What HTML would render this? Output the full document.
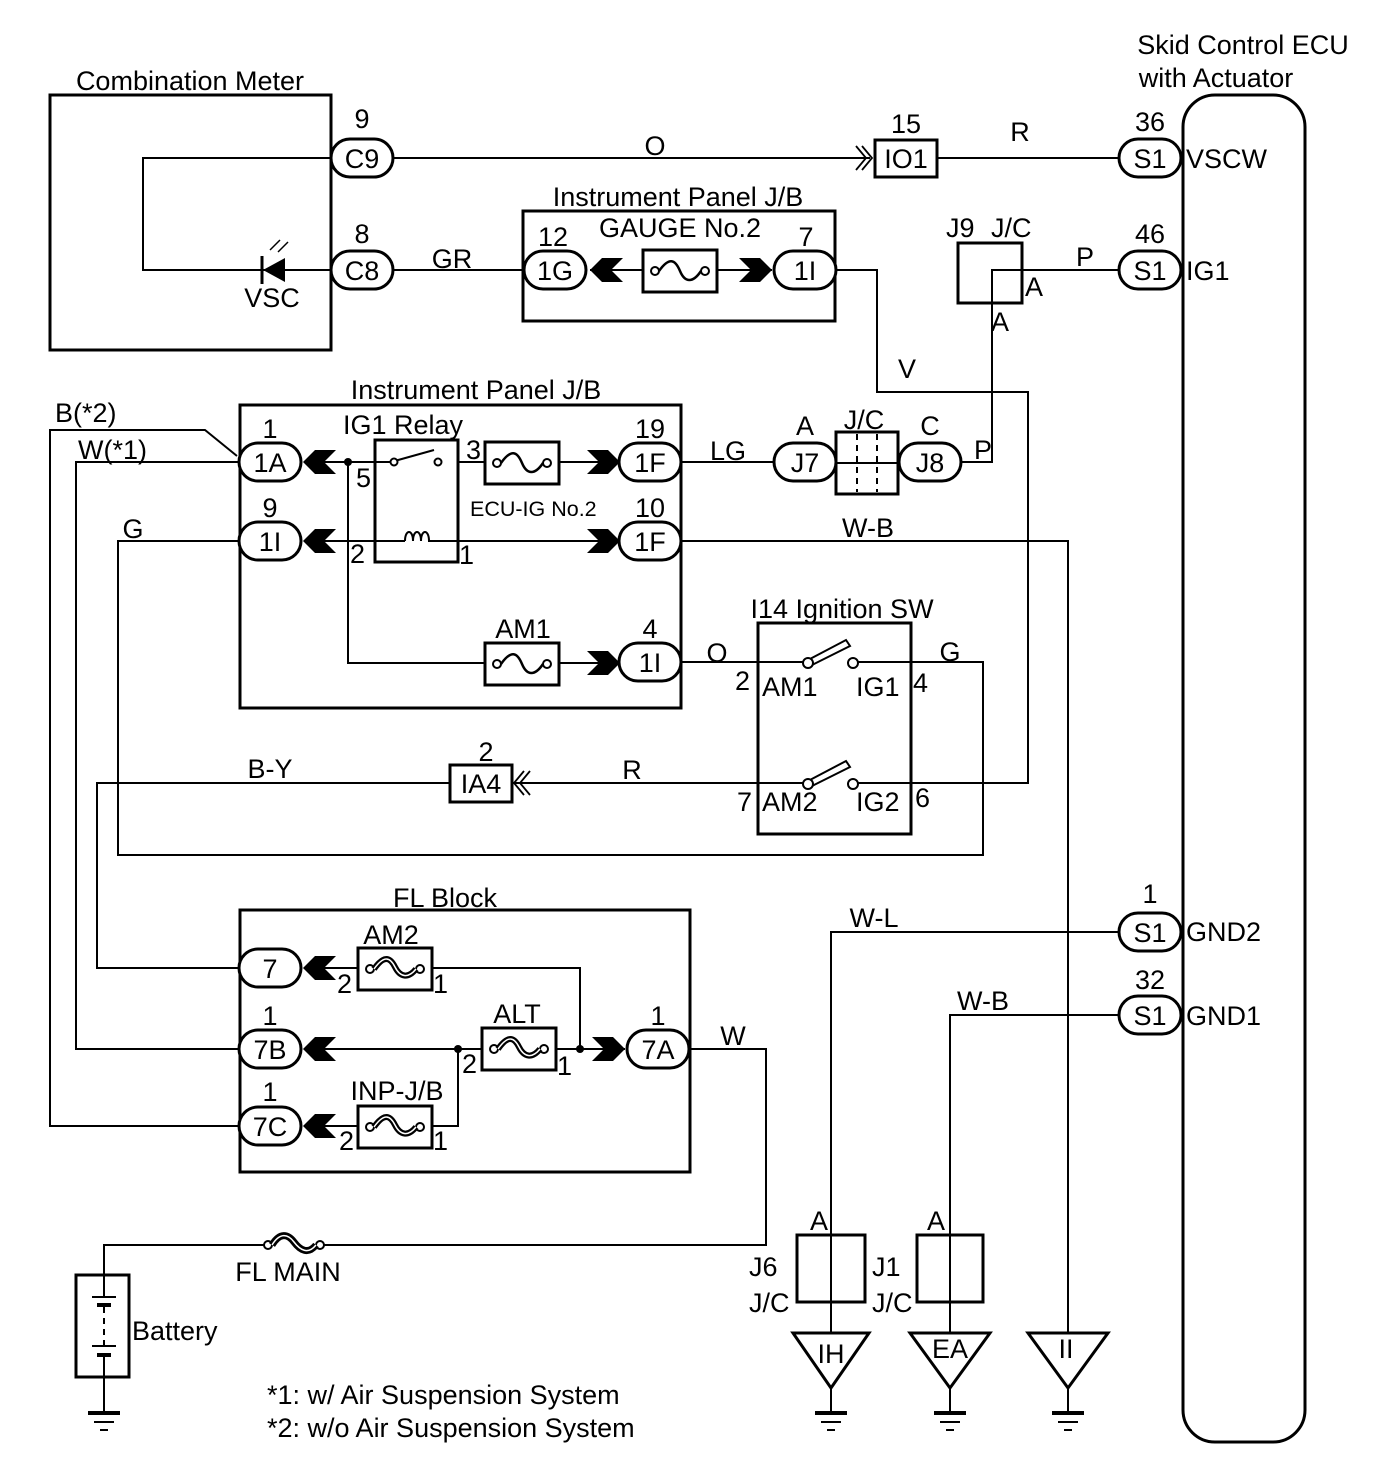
<!DOCTYPE html>
<html><head><meta charset="utf-8"><style>
html,body{margin:0;padding:0;background:#fff;}
svg{display:block}
text{font-family:"Liberation Sans",Arial,sans-serif;font-size:27px;fill:#000}
</style></head><body>
<svg width="1376" height="1480" viewBox="0 0 1376 1480" xmlns="http://www.w3.org/2000/svg">
<defs>
<g id="pill"><rect x="-31" y="-19" width="62" height="38" rx="19" fill="#fff" stroke="#000" stroke-width="3"/></g>
<g id="chL"><polygon points="0,0 12,-12 33,-12 21,0 33,12 12,12" fill="#000"/></g>
<g id="chR"><polygon points="0,0 -12,-12 -33,-12 -21,0 -33,12 -12,12" fill="#000"/></g>
<g id="fuse"><rect x="0" y="-21" width="74" height="42" fill="#fff" stroke="#000" stroke-width="3"/><circle cx="12" cy="0" r="4" fill="#fff" stroke="#000" stroke-width="2"/><circle cx="62" cy="0" r="4" fill="#fff" stroke="#000" stroke-width="2"/><path d="M16,0 C26,-14 32,-12 37,0 S50,12 58,0" fill="none" stroke="#000" stroke-width="2.5"/></g>
<g id="fl"><rect x="0" y="-21" width="74" height="42" fill="#fff" stroke="#000" stroke-width="3"/><circle cx="12" cy="0" r="4" fill="#fff" stroke="#000" stroke-width="2"/><circle cx="62" cy="0" r="4" fill="#fff" stroke="#000" stroke-width="2"/><path d="M16,0 C26,-14 32,-12 37,-2 S50,10 58,0" fill="none" stroke="#000" stroke-width="6"/><path d="M16,0 C26,-14 32,-12 37,-2 S50,10 58,0" fill="none" stroke="#fff" stroke-width="1.5"/></g>
<g id="gnd"><line x1="-16" y1="0" x2="16" y2="0" stroke="#000" stroke-width="4"/><line x1="-10" y1="9" x2="10" y2="9" stroke="#000" stroke-width="2"/><line x1="-4" y1="17" x2="4" y2="17" stroke="#000" stroke-width="2"/></g>
</defs>

<g fill="none" stroke="#000" stroke-width="2">
<polyline points="331,158 143,158 143,270 331,270"/>
<line x1="393" y1="158" x2="870" y2="158"/>
<line x1="937" y1="158" x2="1119" y2="158"/>
<line x1="393" y1="270" x2="524" y2="270"/>
<polyline points="836,270 877,270 877,392 1028,392 1028,783 853,783"/>
<polyline points="1119,270 992,270 992,462 961,462"/>
<line x1="681" y1="462" x2="774" y2="462"/>
<polyline points="681,541 1068,541 1068,1333"/>
<line x1="681" y1="662" x2="808" y2="662"/>
<polyline points="853,662 983,662 983,855 118,855 118,541 239,541"/>
<line x1="512" y1="783" x2="808" y2="783"/>
<polyline points="450,783 97,783 97,968 239,968"/>
<polyline points="239,462 76,462 76,1049 239,1049"/>
<polyline points="237,456 205,430 50,430 50,1126 239,1126"/>
<polyline points="689,1049 766,1049 766,1245 320,1245"/>
<polyline points="265,1245 104,1245 104,1275"/>
<line x1="104" y1="1377" x2="104" y2="1412"/>
<polyline points="1119,932 831,932 831,1333"/>
<polyline points="1119,1015 950,1015 950,1333"/>
<line x1="1068" y1="1388" x2="1068" y2="1412"/>
<line x1="831" y1="1388" x2="831" y2="1412"/>
<line x1="950" y1="1388" x2="950" y2="1412"/>
<line x1="305" y1="462" x2="391" y2="462"/>
<line x1="438" y1="462" x2="620" y2="462"/>
<line x1="305" y1="541" x2="620" y2="541"/>
<polyline points="348,462 348,663 620,663"/>
<line x1="590" y1="270" x2="772" y2="270"/>
<polyline points="305,968 432,968 580,968 580,1049"/>
<line x1="305" y1="1049" x2="625" y2="1049"/>
<polyline points="458,1049 458,1126 305,1126"/>
</g>

<g fill="none" stroke="#000" stroke-width="3">
<rect x="50" y="95" width="281" height="255"/>
<rect x="523" y="211" width="312" height="110"/>
<rect x="240" y="405" width="441" height="303"/>
<rect x="758" y="623" width="153" height="211"/>
<rect x="240" y="910" width="450" height="262"/>
<rect x="958" y="243" width="64" height="60"/>
<rect x="1183" y="95" width="122" height="1347" rx="32"/>
<rect x="797" y="1235" width="68" height="67"/>
<rect x="917" y="1235" width="66" height="67"/>
<rect x="375" y="440" width="83" height="122" fill="#fff"/>
<rect x="76" y="1275" width="53" height="102"/>
<polygon points="793,1333 869,1333 831,1388" fill="#fff"/>
<polygon points="910,1333 990,1333 950,1388" fill="#fff"/>
<polygon points="1028,1333 1108,1333 1068,1388" fill="#fff"/>
</g>
<g stroke="#000" stroke-width="2">
<line x1="375" y1="462" x2="391" y2="462"/><line x1="375" y1="541" x2="405" y2="541"/><line x1="428" y1="541" x2="458" y2="541"/>
<line x1="391" y1="462" x2="434" y2="450"/>
</g>
<circle cx="394" cy="462" r="3.5" fill="#fff" stroke="#000" stroke-width="2"/>
<circle cx="438" cy="462" r="3.5" fill="#fff" stroke="#000" stroke-width="2"/>
<path d="M405,541 c0,-12 8,-12 8,0 c0,-12 8,-12 8,0 c0,-12 8,-12 8,0" fill="#fff" stroke="#000" stroke-width="2"/>
<circle cx="348" cy="462" r="4" fill="#000"/>
<circle cx="580" cy="1049" r="4" fill="#000"/>
<circle cx="458" cy="1049" r="4" fill="#000"/>

<g stroke="#000" stroke-width="2" fill="#fff">
<polygon points="808,660 846,640 850,646 810,666"/><circle cx="808" cy="663" r="5"/><circle cx="853" cy="663" r="5"/>
<polygon points="808,781 846,761 850,767 810,787"/><circle cx="808" cy="784" r="5"/><circle cx="853" cy="784" r="5"/>
</g>

<rect x="836" y="432" width="62" height="62" fill="#fff" stroke="#000" stroke-width="3"/>
<line x1="836" y1="463" x2="898" y2="463" stroke="#000" stroke-width="2"/>
<line x1="857" y1="434" x2="857" y2="492" stroke="#000" stroke-width="2" stroke-dasharray="6,5"/>
<line x1="877" y1="434" x2="877" y2="492" stroke="#000" stroke-width="2" stroke-dasharray="6,5"/>

<use href="#fuse" x="643" y="271"/>
<use href="#fuse" x="485" y="463"/>
<use href="#fuse" x="485" y="664"/>
<use href="#fl" x="358" y="969"/>
<use href="#fl" x="482" y="1049"/>
<use href="#fl" x="358" y="1127"/>
<circle cx="268" cy="1245" r="4" fill="#fff" stroke="#000" stroke-width="2"/>
<circle cx="320" cy="1245" r="4" fill="#fff" stroke="#000" stroke-width="2"/>
<path d="M272,1245 C280,1232 288,1234 294,1242 S308,1255 316,1245" fill="none" stroke="#000" stroke-width="7"/>
<path d="M272,1245 C280,1232 288,1234 294,1242 S308,1255 316,1245" fill="none" stroke="#fff" stroke-width="1.5"/>

<use href="#chL" x="590" y="270"/>
<use href="#chR" x="772" y="270"/>
<use href="#chL" x="303" y="462"/>
<use href="#chL" x="303" y="541"/>
<use href="#chR" x="620" y="462"/>
<use href="#chR" x="620" y="541"/>
<use href="#chR" x="620" y="663"/>
<use href="#chL" x="303" y="968"/>
<use href="#chL" x="303" y="1049"/>
<use href="#chL" x="303" y="1126"/>
<use href="#chR" x="625" y="1049"/>
<g fill="none" stroke="#000" stroke-width="1.8">
<polyline points="856,146 866,158 856,170"/><polyline points="862,146 872,158 862,170"/>
<polyline points="524,771 514,783 524,795"/><polyline points="530,771 520,783 530,795"/>
</g>

<use href="#pill" x="362" y="158"/><use href="#pill" x="362" y="270"/>
<use href="#pill" x="555" y="270"/><use href="#pill" x="805" y="270"/>
<use href="#pill" x="1150" y="158"/><use href="#pill" x="1150" y="270"/>
<use href="#pill" x="1150" y="932"/><use href="#pill" x="1150" y="1015"/>
<use href="#pill" x="270" y="462"/><use href="#pill" x="270" y="541"/>
<use href="#pill" x="650" y="462"/><use href="#pill" x="650" y="541"/><use href="#pill" x="650" y="662"/>
<use href="#pill" x="805" y="462"/><use href="#pill" x="930" y="462"/>
<use href="#pill" x="270" y="968"/><use href="#pill" x="270" y="1049"/><use href="#pill" x="270" y="1126"/>
<use href="#pill" x="658" y="1049"/>
<rect x="875" y="140" width="62" height="37" fill="#fff" stroke="#000" stroke-width="3"/>
<rect x="450" y="765" width="62" height="37" fill="#fff" stroke="#000" stroke-width="3"/>

<polygon points="263,270 285,258 285,282" fill="#000"/>
<line x1="262" y1="256" x2="262" y2="284" stroke="#000" stroke-width="3"/>
<g stroke="#000" stroke-width="1.5" fill="none"><line x1="270" y1="250" x2="280" y2="240"/><line x1="278" y1="252" x2="288" y2="242"/></g>

<g stroke="#000">
<line x1="104" y1="1275" x2="104" y2="1297" stroke-width="2"/>
<line x1="92" y1="1297" x2="116" y2="1297" stroke-width="2"/>
<line x1="97" y1="1305" x2="111" y2="1305" stroke-width="4"/>
<line x1="104" y1="1307" x2="104" y2="1345" stroke-width="2" stroke-dasharray="6,5"/>
<line x1="92" y1="1346" x2="116" y2="1346" stroke-width="2"/>
<line x1="97" y1="1355" x2="111" y2="1355" stroke-width="4"/>
<line x1="104" y1="1357" x2="104" y2="1377" stroke-width="2"/>
</g>
<use href="#gnd" x="104" y="1413"/>
<use href="#gnd" x="831" y="1413"/>
<use href="#gnd" x="950" y="1413"/>
<use href="#gnd" x="1068" y="1413"/>

<g text-anchor="middle">
<text x="190" y="90">Combination Meter</text>
<text x="1243" y="54">Skid Control ECU</text>
<text x="1216" y="87">with Actuator</text>
<text x="362" y="128">9</text><text x="362" y="168">C9</text>
<text x="362" y="243">8</text><text x="362" y="280">C8</text>
<text x="272" y="307">VSC</text>
<text x="655" y="155">O</text>
<text x="906" y="133">15</text><text x="906" y="168">IO1</text>
<text x="1020" y="141">R</text>
<text x="1150" y="131">36</text><text x="1150" y="168">S1</text>
<text x="1150" y="243">46</text><text x="1150" y="280">S1</text>
<text x="678" y="206">Instrument Panel J/B</text>
<text x="680" y="237">GAUGE No.2</text>
<text x="553" y="246">12</text><text x="555" y="280">1G</text>
<text x="806" y="246">7</text><text x="805" y="280">1I</text>
<text x="452" y="268">GR</text>
<text x="907" y="378">V</text>
<text x="476" y="399">Instrument Panel J/B</text>
<text x="403" y="434">IG1 Relay</text>
<text x="270" y="438">1</text><text x="270" y="472">1A</text>
<text x="270" y="517">9</text><text x="270" y="551">1I</text>
<text x="650" y="438">19</text><text x="650" y="472">1F</text>
<text x="650" y="517">10</text><text x="650" y="551">1F</text>
<text x="650" y="638">4</text><text x="650" y="672">1I</text>
<text x="523" y="638">AM1</text>
<text x="728" y="460">LG</text>
<text x="805" y="435">A</text><text x="805" y="472">J7</text>
<text x="864" y="429">J/C</text>
<text x="930" y="435">C</text><text x="930" y="472">J8</text>
<text x="868" y="537">W-B</text>
<text x="717" y="662">O</text>
<text x="950" y="661">G</text>
<text x="133" y="538">G</text>
<text x="842" y="618">I14 Ignition SW</text>
<text x="270" y="778">B-Y</text>
<text x="632" y="779">R</text>
<text x="486" y="761">2</text><text x="481" y="793">IA4</text>
<text x="445" y="907">FL Block</text>
<text x="270" y="978">7</text>
<text x="270" y="1025">1</text><text x="270" y="1059">7B</text>
<text x="270" y="1101">1</text><text x="270" y="1136">7C</text>
<text x="658" y="1025">1</text><text x="658" y="1059">7A</text>
<text x="391" y="944">AM2</text>
<text x="517" y="1023">ALT</text>
<text x="397" y="1100">INP-J/B</text>
<text x="733" y="1045">W</text>
<text x="874" y="927">W-L</text>
<text x="983" y="1010">W-B</text>
<text x="1150" y="903">1</text><text x="1150" y="942">S1</text>
<text x="1150" y="989">32</text><text x="1150" y="1025">S1</text>
<text x="288" y="1281">FL MAIN</text>
<text x="819" y="1230">A</text>
<text x="936" y="1230">A</text>
<text x="831" y="1363">IH</text>
<text x="950" y="1358">EA</text>
<text x="1066" y="1358">II</text>
<text x="1085" y="266">P</text>
<text x="983" y="459">P</text>
</g>
<text x="1186" y="168">VSCW</text>
<text x="1186" y="280">IG1</text>
<text x="1186" y="941">GND2</text>
<text x="1186" y="1025">GND1</text>
<text x="946" y="237">J9</text><text x="991" y="237">J/C</text>
<text x="1025" y="296">A</text><text x="991" y="331">A</text>
<text x="55" y="422">B(*2)</text>
<text x="78" y="459">W(*1)</text>
<text x="356" y="487">5</text>
<text x="466" y="459">3</text>
<text x="350" y="563">2</text>
<text x="459" y="564">1</text>
<text x="470" y="516" style="font-size:21.5px">ECU-IG No.2</text>
<text x="735" y="690">2</text>
<text x="762" y="696">AM1</text>
<text x="856" y="696">IG1</text>
<text x="913" y="692">4</text>
<text x="737" y="811">7</text>
<text x="762" y="811">AM2</text>
<text x="856" y="811">IG2</text>
<text x="915" y="807">6</text>
<text x="337" y="993">2</text><text x="433" y="993">1</text>
<text x="462" y="1073">2</text><text x="557" y="1075">1</text>
<text x="339" y="1150">2</text><text x="433" y="1150">1</text>
<text x="749" y="1276">J6</text><text x="749" y="1312">J/C</text>
<text x="872" y="1276">J1</text><text x="872" y="1312">J/C</text>
<text x="132" y="1340">Battery</text>
<text x="267" y="1404">*1: w/ Air Suspension System</text>
<text x="267" y="1437">*2: w/o Air Suspension System</text>
</svg>
</body></html>
